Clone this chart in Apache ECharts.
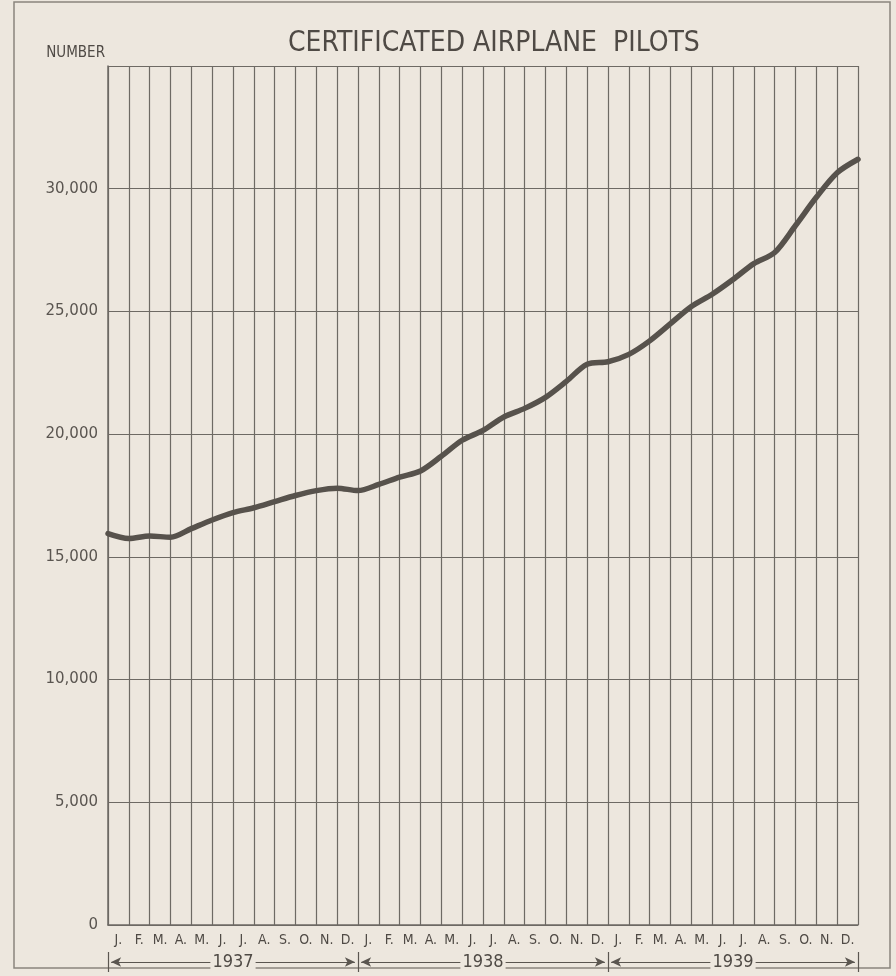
<!DOCTYPE html>
<html>
<head>
<meta charset="utf-8">
<script src="https://cdn.jsdelivr.net/npm/echarts@6/dist/echarts.min.js"></script>
<style>
  html, body { margin: 0; padding: 0; background: #ede7de; }
  #chart { width: 896px; height: 976px; }
</style>
</head>
<body>
<div id="chart"></div>
<script>
// month labels under each column, 3 years
const months = ['J.', 'F.', 'M.', 'A.', 'M.', 'J.', 'J.', 'A.', 'S.', 'O.', 'N.', 'D.']
const years = ['1937', '1938', '1939']
// pilots read at each month boundary (37 points, Jan 1937 .. end of Dec 1939)
const pilots = [
  15950, 15750, 15850, 15800, 16150, 16500, 16800, 17000, 17250, 17500, 17700, 17800,
  17700, 17950, 18250, 18500, 19100, 19750, 20150, 20700, 21050, 21500, 22150, 22850,
  22950, 23250, 23800, 24500, 25200, 25700, 26300, 26950, 27400, 28500, 29650, 30650,
  31200
]
const yTicks = [0, 5000, 10000, 15000, 20000, 25000, 30000]
const yTickLabels = ['0', '5,000', '10,000', '15,000', '20,000', '25,000', '30,000']

const monthCats = []
years.forEach(() => months.forEach(m => monthCats.push(m)))

const ink = '#5b5650'
const gridInk = '#6e6a64'
const paper = '#ede7de'

const chart = echarts.init(document.getElementById('chart'))

const option = {
  backgroundColor: paper,
  animation: false,
  title: {
    text: 'CERTIFICATED AIRPLANE  PILOTS',
    left: 283,
    top: 25,
    textStyle: {
      fontFamily: 'DejaVu Sans Condensed',
      fontWeight: 'normal',
      fontSize: 28,
      color: '#4f4a45'
    }
  },
  graphic: [
    {
      type: 'rect',
      shape: { x: 14, y: 2, width: 876, height: 966 },
      style: { fill: 'none', stroke: '#8a857e', lineWidth: 1.5 },
      silent: true
    }
  ],
  grid: [
    { left: 108, right: 38, top: 66, bottom: 51 },
    { left: 108, right: 38, top: 952, height: 20 }
  ],
  xAxis: [
    {
      type: 'category',
      gridIndex: 0,
      data: monthCats,
      boundaryGap: true,
      axisLine: { lineStyle: { color: gridInk, width: 1.5 } },
      axisTick: { show: false },
      axisLabel: {
        interval: 0,
        margin: 8,
        fontFamily: 'DejaVu Sans Condensed',
        fontSize: 14,
        color: '#4f4a45'
      },
      splitLine: { show: true, interval: 0, lineStyle: { color: gridInk, width: 1.2 } }
    },
    {
      type: 'value',
      gridIndex: 0,
      min: 0,
      max: 36,
      show: false
    },
    {
      type: 'category',
      gridIndex: 1,
      data: years,
      boundaryGap: true,
      axisLine: { show: false },
      axisTick: { show: true, inside: true, length: 20, lineStyle: { color: ink, width: 1.2 } },
      axisLabel: { show: false },
      splitLine: { show: false }
    },
    {
      type: 'value',
      gridIndex: 1,
      min: 0,
      max: 36,
      show: false
    }
  ],
  yAxis: [
    {
      type: 'value',
      gridIndex: 0,
      min: 0,
      max: 35000,
      interval: 5000,
      name: 'NUMBER',
      nameLocation: 'end',
      nameGap: 5,
      nameTextStyle: {
        fontFamily: 'DejaVu Sans Condensed',
        fontSize: 15,
        color: '#4f4a45',
        align: 'right',
        padding: [0, 3, 0, 0]
      },
      axisLine: { show: true, lineStyle: { color: gridInk, width: 1.5 } },
      axisTick: { show: false },
      axisLabel: {
        margin: 10,
        fontFamily: 'DejaVu Sans',
        fontSize: 15,
        color: '#5a5550',
        formatter: (v) => {
          const i = yTicks.indexOf(v)
          return i >= 0 ? yTickLabels[i] : ''
        }
      },
      splitLine: { show: true, lineStyle: { color: gridInk, width: 1.2 } }
    },
    {
      type: 'value',
      gridIndex: 1,
      min: 0,
      max: 1,
      show: false
    }
  ],
  series: [
    {
      name: 'pilots',
      type: 'line',
      xAxisIndex: 1,
      yAxisIndex: 0,
      data: pilots.map((v, i) => [i, v]),
      smooth: 0.3,
      showSymbol: false,
      lineStyle: { color: '#57524c', width: 5.5, cap: 'round', join: 'round' }
    },
    {
      name: 'years',
      type: 'line',
      xAxisIndex: 3,
      yAxisIndex: 1,
      data: [],
      markLine: {
        silent: true,
        symbol: ['arrow', 'arrow'],
        symbolSize: [7, 10],
        lineStyle: { color: ink, width: 1.2, type: 'solid' },
        label: {
          show: true,
          position: 'middle',
          distance: 0,
          verticalAlign: 'middle',
          formatter: '{b}',
          fontFamily: 'DejaVu Sans Condensed',
          fontSize: 18,
          color: '#4f4a45',
          backgroundColor: paper,
          padding: [0, 2]
        },
        data: years.map((y, i) => [
          { name: y, coord: [i * 12 + 0.15, 0.5] },
          { coord: [(i + 1) * 12 - 0.15, 0.5] }
        ])
      }
    }
  ]
}

chart.setOption(option)
window.addEventListener('resize', () => {
  chart.resize()
})
</script>
</body>
</html>
